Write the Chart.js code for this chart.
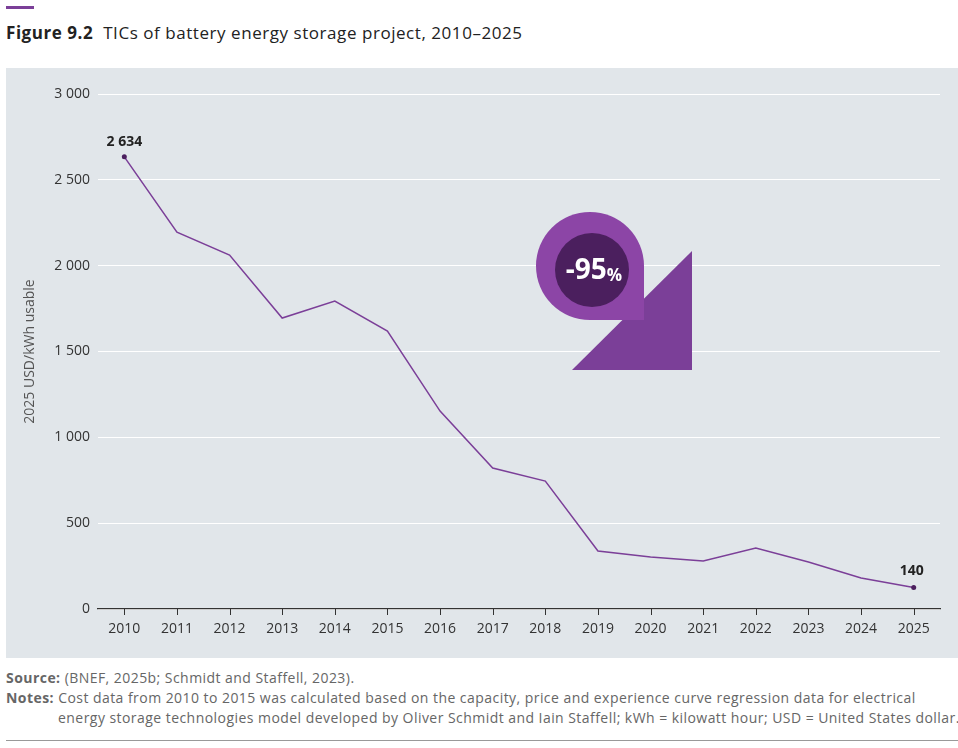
<!DOCTYPE html>
<html><head><meta charset="utf-8">
<script src="https://cdn.jsdelivr.net/npm/chart.js@4"></script>
<style>
body{margin:0;width:958px;height:748px;background:#fff;font-family:"Open Sans",sans-serif;position:relative;overflow:hidden}
#bar{position:absolute;left:6px;top:6px;width:28px;height:3px;background:#7b3f98}
#title{position:absolute;left:6px;top:21px;font-size:17px;color:#222;letter-spacing:0.55px}
#wrap{position:absolute;left:6px;top:68px;width:952px;height:590px;background:#e1e6ea}
#notes{position:absolute;left:6px;top:668px;font-size:14px;color:#666;line-height:20px;letter-spacing:0.45px;white-space:nowrap}
#notes b{color:#666}
hr{position:absolute;left:6px;top:740px;width:952px;margin:0;border:0;border-top:1px solid #999}
</style></head><body>
<div id="bar"></div>
<div id="title"><b>Figure 9.2</b>&nbsp; TICs of battery energy storage project, 2010–2025</div>
<div id="wrap"><canvas id="c" width="952" height="590"></canvas></div>
<div id="notes"><b>Source:</b> (BNEF, 2025b; Schmidt and Staffell, 2023).<br>
<b>Notes:</b> Cost data from 2010 to 2015 was calculated based on the capacity, price and experience curve regression data for electrical<br>
<span style="padding-left:52px">energy storage technologies model developed by Oliver Schmidt and Iain Staffell; kWh = kilowatt hour; USD = United States dollar.</span></div>
<hr>
<script>
const years=["2010","2011","2012","2013","2014","2015","2016","2017","2018","2019","2020","2021","2022","2023","2024","2025"];
const costs=[2634,2195,2062,1695,1794,1619,1153,821,745,338,303,280,355,274,181,125];
const pointLabels={0:"2 634",15:"140"};
const fmt=v=>v>=1000?String(Math.floor(v/1000))+" "+String(v%1000).padStart(3,"0"):String(v);
const deco={id:"deco",afterDatasetsDraw(ch){
 const g=ch.ctx;const ox=-6,oy=-68;
 g.save();
 g.fillStyle="#7b3f98";g.beginPath();g.moveTo(692+ox,251+oy);g.lineTo(692+ox,370+oy);g.lineTo(572+ox,370+oy);g.closePath();g.fill();
 const cx=590+ox,cy=266+oy,r=54;
 g.fillStyle="#8c45a6";g.beginPath();g.arc(cx,cy,r,0,Math.PI*2);g.fill();g.fillRect(cx,cy,r,r);
 g.fillStyle="#4b1f5e";g.beginPath();g.arc(592+ox,270+oy,37,0,Math.PI*2);g.fill();
 g.fillStyle="#fff";g.textBaseline="middle";g.font="bold 28px 'Open Sans'";
 const t1="-95",w1=g.measureText(t1).width;g.font="bold 17px 'Open Sans'";const w2=g.measureText("%").width;
 const sx=594+ox-(w1+w2)/2;g.font="bold 28px 'Open Sans'";g.fillText(t1,sx,271+oy);g.font="bold 17px 'Open Sans'";g.fillText("%",sx+w1,276+oy);
 const m=ch.getDatasetMeta(0);g.fillStyle="#222";g.font="bold 14px 'Open Sans'";g.textAlign="center";g.textBaseline="bottom";
 for(const k in pointLabels){const p=m.data[k];g.fillText(pointLabels[k],p.x+(k==0?0:-2),p.y-(k==0?8:10));}
 g.restore();}};
new Chart(document.getElementById("c"),{type:"line",
 data:{labels:years,datasets:[{data:costs,borderColor:"#7b3f98",borderWidth:1.5,tension:0,
  pointRadius:costs.map((v,i)=>i==0||i==15?2.5:0),pointBackgroundColor:"#4b1f5e",pointBorderWidth:0}]},
 options:{responsive:false,animation:false,layout:{padding:{left:12,right:18,top:26,bottom:0}},
  plugins:{legend:{display:false},tooltip:{enabled:false}},
  scales:{x:{offset:true,grid:{display:false,drawTicks:true},border:{color:"#333",width:1.2},
    ticks:{color:"#333",font:{size:14,family:"'Open Sans'"},padding:4},
    afterFit(a){a.height=49}},
   y:{min:0,max:3000,ticks:{stepSize:500,color:"#333",font:{size:14,family:"'Open Sans'"},callback:v=>fmt(v),padding:8},
    grid:{color:"#fff",lineWidth:1,drawTicks:false},border:{display:false},
    title:{display:true,text:"2025 USD/kWh usable",color:"#555",font:{size:14,family:"'Open Sans'"}},
    afterFit(a){a.width=80}}}},
 plugins:[deco,{id:"xt",afterDraw(ch){const g=ch.ctx,x=ch.scales.x,y=ch.chartArea.bottom;g.save();g.strokeStyle="#333";g.lineWidth=1;
   for(let i=0;i<years.length;i++){const px=Math.round(x.getPixelForValue(i))+.5;g.beginPath();g.moveTo(px,y);g.lineTo(px,y+6);g.stroke();}g.restore();}}]
});
</script></body></html>
